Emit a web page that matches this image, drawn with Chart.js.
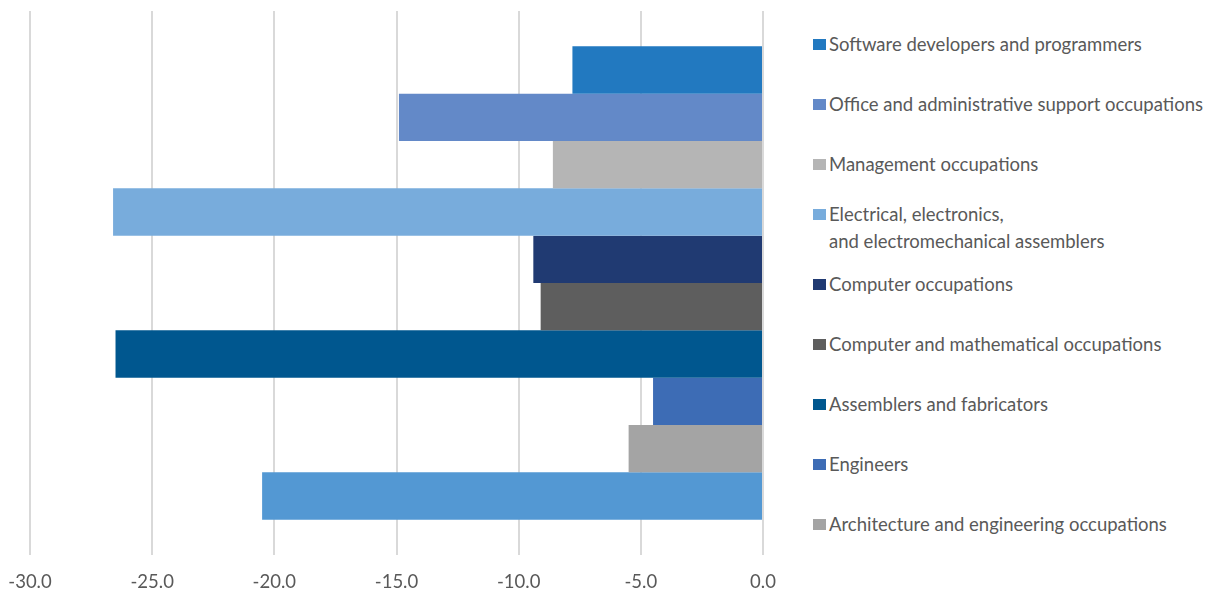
<!DOCTYPE html>
<html>
<head>
<meta charset="utf-8">
<script src="https://cdn.jsdelivr.net/npm/chart.js@4"></script>
<style>
  html, body { margin: 0; padding: 0; background: #fff; }
  #page { position: relative; width: 1214px; height: 597px; overflow: hidden; }
  #wrap { position: absolute; left: 0; top: 0; width: 791px; height: 597px; }
  #legend { position: absolute; left: 813px; top: 15px; margin: 0; padding: 0; list-style: none;
            font-family: 'Lato', sans-serif; font-size: 18.5px; color: #595959; }
  #legend li { height: 59.9px; display: flex; align-items: center; }
  #legend .box { width: 13px; height: 11px; margin-right: 3px; flex: none; }
  #legend li.multi .box { align-self: flex-start; margin-top: 14px; }
  #legend li.multi .txt { margin-top: 6px; }
  #legend .txt { line-height: 27px; white-space: nowrap; }
</style>
</head>
<body>
<div id="page">
  <div id="wrap"><canvas id="myBarChart"></canvas></div>
  <ul id="legend"></ul>
</div>
<script>
// occupations, top bar to bottom bar
const occupations = [
    'Software developers and programmers',
    'Office and administrative support occupations',
    'Management occupations',
    ['Electrical, electronics,', 'and electromechanical assemblers'],
    'Computer occupations',
    'Computer and mathematical occupations',
    'Assemblers and fabricators',
    'Engineers',
    'Architecture and engineering occupations',
    'All occupations'
];
const changes = [-7.8, -14.9, -8.6, -26.6, -9.4, -9.1, -26.5, -4.5, -5.5, -20.5];
const colors = ['#2279c0', '#6389c8', '#b5b5b5', '#78acdc', '#203a72',
                '#5e5e5e', '#00578f', '#3d6cb5', '#a4a4a4', '#5398d3'];
const xTicks = [-30, -25, -20, -15, -10, -5, 0];

// html legend, the last series has no entry
const legendPlugin = {
    id: 'htmlLegend',
    afterUpdate(chart) {
        const ul = document.getElementById('legend');
        ul.innerHTML = '';
        const items = chart.options.plugins.legend.labels.generateLabels(chart);
        items.forEach(function(item) {
            if (item.datasetIndex >= 9) return;
            const li = document.createElement('li');
            const lines = Array.isArray(item.text) ? item.text : [item.text];
            if (lines.length > 1) li.className = 'multi';
            const box = document.createElement('span');
            box.className = 'box';
            box.style.background = item.fillStyle;
            const txt = document.createElement('span');
            txt.className = 'txt';
            txt.innerHTML = lines.join('<br>');
            li.appendChild(box);
            li.appendChild(txt);
            ul.appendChild(li);
        });
    }
};

document.addEventListener("DOMContentLoaded", function() {
    const ctx = document.getElementById("myBarChart").getContext("2d");

    // one dataset per occupation so each gets its own legend entry
    const datasets = occupations.map(function(name, i) {
        return {
            label: name,
            data: [changes[i]],
            backgroundColor: colors[i],
            borderWidth: 0,
            barPercentage: 1.0,
            categoryPercentage: 0.87
        };
    });

    const config = {
        type: 'bar',
        data: { labels: [''], datasets: datasets },
        options: {
            indexAxis: 'y',
            responsive: true,
            maintainAspectRatio: false,
            animation: false,
            layout: { padding: { top: 11, left: 30, right: 28, bottom: 0 } },
            plugins: {
                tooltip: { enabled: false },
                legend: { display: false }
            },
            scales: {
                x: {
                    min: -30,
                    max: 0,
                    afterBuildTicks: function(axis) {
                        axis.ticks = xTicks.map(function(v) { return { value: v }; });
                    },
                    // fixed axis size, the layout padding handles the label overhang
                    afterFit: function(axis) {
                        axis.height = 42;
                        axis.paddingLeft = 0;
                        axis.paddingRight = 0;
                    },
                    grid: { color: '#d9d9d9', lineWidth: 2, drawTicks: false },
                    border: { display: false },
                    ticks: {
                        color: '#595959',
                        font: { family: 'Lato', size: 18.5 },
                        padding: 16,
                        callback: function(v) { return Number(v).toFixed(1); }
                    }
                },
                y: { display: false }
            }
        },
        plugins: [legendPlugin]
    };

    new Chart(ctx, config);
});
</script>
</body>
</html>
